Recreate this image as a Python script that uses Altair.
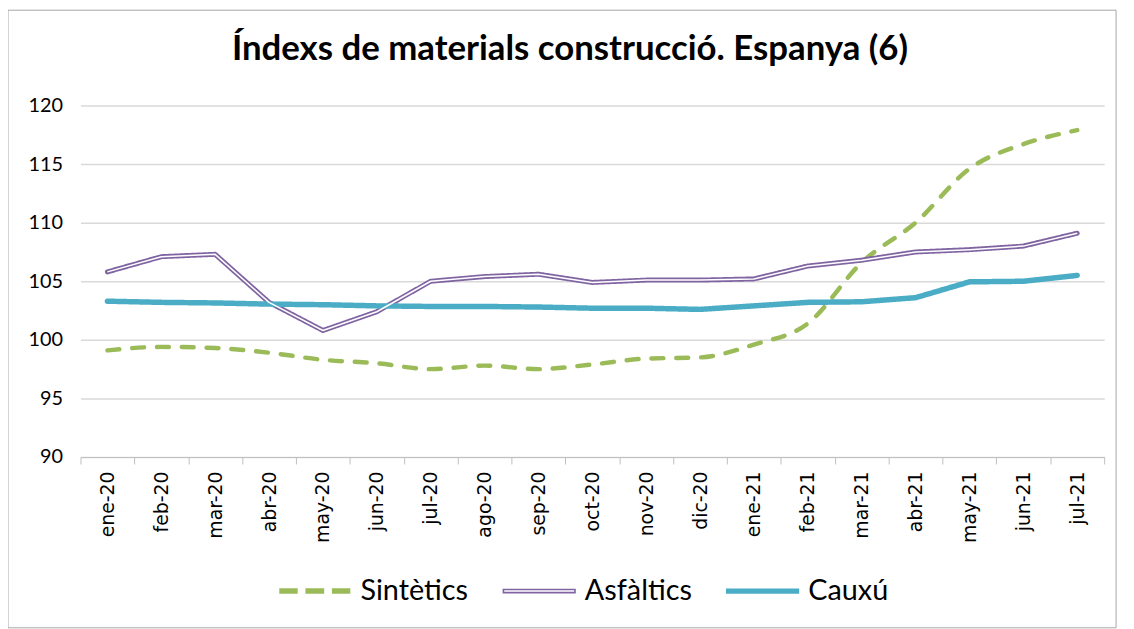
import altair as alt
import pandas as pd

months = ["ene-20", "feb-20", "mar-20", "abr-20", "may-20", "jun-20", "jul-20",
          "ago-20", "sep-20", "oct-20", "nov-20", "dic-20", "ene-21", "feb-21",
          "mar-21", "abr-21", "may-21", "jun-21", "jul-21"]
sintetics = [99.1, 99.4, 99.3, 98.9, 98.3, 98.0, 97.5, 97.8, 97.5, 97.9, 98.4,
             98.5, 99.6, 101.4, 106.6, 110.0, 114.6, 116.7, 117.9]
asfaltics = [105.8, 107.1, 107.3, 103.2, 100.8, 102.4, 105.0, 105.4, 105.6, 104.9,
             105.1, 105.1, 105.2, 106.3, 106.8, 107.5, 107.7, 108.0, 109.1]
cauxu = [103.3, 103.2, 103.15, 103.05, 103.0, 102.9, 102.85, 102.85, 102.8, 102.7,
         102.7, 102.6, 102.9, 103.2, 103.25, 103.6, 104.95, 105.0, 105.5]
series_names = ["Sintètics", "Asfàltics", "Cauxú"]
y_ticks = [90, 95, 100, 105, 110, 115, 120]
title_text = "Índexs de materials construcció. Espanya (6)"

GREEN, PURPLE, TEAL = "#9BBB59", "#8064A2", "#4BACC6"

rows = []
for name, vals in zip(series_names, [sintetics, asfaltics, cauxu]):
    for m, v in zip(months, vals):
        rows.append({"mes": m, "valor": v, "serie": name})
df = pd.DataFrame(rows)

x_enc = alt.X("mes:N", sort=months, scale=alt.Scale(type="band", paddingInner=0, paddingOuter=0),
              axis=alt.Axis(title=None, labelAngle=-90, labelFont="DejaVu Sans", labelFontSize=19,
                            labelColor="#000000", domainColor="#bfbfbf", tickColor="#bfbfbf",
                            tickSize=7, tickBand="extent", labelPadding=7, grid=False))
y_enc = alt.Y("valor:Q", scale=alt.Scale(domain=[90, 120], nice=False, zero=False),
              axis=alt.Axis(title=None, values=y_ticks, labelFont="Lato", labelFontSize=20,
                            labelColor="#000000", ticks=False, domain=False, labelPadding=18,
                            gridColor="#d9d9d9", gridWidth=1.5))

# line scales use a reversed domain order (keeps them apart from the legend scales)
line_domain = list(reversed(series_names))
color_scale = alt.Scale(domain=line_domain, range=[TEAL, PURPLE, GREEN])
dash_scale = alt.Scale(domain=line_domain, range=[[1, 0], [1, 0], [12, 13]])
width_scale = alt.Scale(domain=line_domain, range=[5.5, 4.5, 5.5])

smooth = alt.Chart(df).transform_filter(alt.datum.serie == "Sintètics").mark_line(
    interpolate="monotone", strokeCap="round").encode(
    x=x_enc, y=y_enc,
    color=alt.Color("serie:N", scale=color_scale, legend=None),
    strokeDash=alt.StrokeDash("serie:N", scale=dash_scale, legend=None),
    strokeWidth=alt.StrokeWidth("serie:N", scale=width_scale, legend=None),
)

straight = alt.Chart(df).transform_filter(alt.datum.serie != "Sintètics").mark_line(
    strokeCap="round", strokeJoin="round").encode(
    x=x_enc, y=y_enc,
    color=alt.Color("serie:N", scale=color_scale, legend=None),
    strokeDash=alt.StrokeDash("serie:N", scale=dash_scale, legend=None),
    strokeWidth=alt.StrokeWidth("serie:N", scale=width_scale, legend=None),
)

inner = alt.Chart(df).transform_filter(alt.datum.serie == "Asfàltics").mark_line(
    color="#ffffff", strokeWidth=1.5, strokeJoin="round").encode(x=x_enc, y=y_enc)

# legend symbols: dashed bar, outlined (double) bar, solid bar
dash_path = ("M-0.97,-0.055H-0.5V0.055H-0.97Z M-0.24,-0.055H0.24V0.055H-0.24Z "
             "M0.5,-0.055H0.97V0.055H0.5Z")
outline_path = "M-1,-0.045H1V0.045H-1Z"
solid_path = "M-1,-0.05H1V0.05H-1Z"

legend = alt.Legend(title=None, orient="none", legendX=199, legendY=452, direction="horizontal",
                    symbolSize=5200, symbolStrokeWidth=1.6, symbolOpacity=1,
                    labelFont="Lato", labelFontSize=29,
                    labelColor="#000000", columnPadding=31, labelOffset=9)

legend_layer = alt.Chart(df).mark_point(
    filled=True, strokeWidth=1.6, opacity=0, size=1).encode(
    x=x_enc, y=y_enc,
    fill=alt.Fill("serie:N", scale=alt.Scale(domain=series_names, range=[GREEN, "#ffffff", TEAL]),
                  legend=legend),
    stroke=alt.Stroke("serie:N", scale=alt.Scale(domain=series_names, range=[GREEN, PURPLE, TEAL]),
                      legend=legend),
    shape=alt.Shape("serie:N", scale=alt.Scale(domain=series_names,
                                               range=[dash_path, outline_path, solid_path]),
                    legend=legend),
)

frame = alt.Chart(pd.DataFrame({"k": [0]})).mark_rect(
    fill=None, stroke="#a6a6a6", strokeWidth=1).encode(
    x=alt.value(-73), x2=alt.value(1043), y=alt.value(-96), y2=alt.value(526))

title = alt.Chart(pd.DataFrame({"t": [title_text]})).mark_text(
    font="Lato", fontSize=35, fontWeight="bold", color="#000000",
    align="center", baseline="middle").encode(
    text="t:N", x=alt.value(493), y=alt.value(-57))

chart = alt.layer(frame, title, smooth, straight, inner, legend_layer).properties(
    width=1031, height=354,
    autosize=alt.AutoSizeParams(type="none"),
    padding={"left": 73, "top": 96, "right": 22, "bottom": 171},
).configure_view(stroke=None)

chart.save("out.html", embed_options={"renderer": "svg", "actions": False})
